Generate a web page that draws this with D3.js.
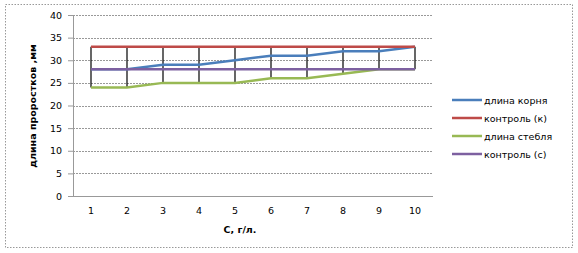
<!DOCTYPE html>
<html>
<head>
<meta charset="utf-8">
<script src="https://cdn.jsdelivr.net/npm/d3@7"></script>
<style>
  body { margin: 0; background: #fff; }
  text { font-family: "DejaVu Sans", Verdana, sans-serif; fill: #000; }
</style>
</head>
<body>
<div id="chart"></div>
<script>
const categories = ["1", "2", "3", "4", "5", "6", "7", "8", "9", "10"];
const rootLen = [28, 28, 29, 29, 30, 31, 31, 32, 32, 33];
const controlK = [33, 33, 33, 33, 33, 33, 33, 33, 33, 33];
const stemLen = [24, 24, 25, 25, 25, 26, 26, 27, 28, 28];
const controlC = [28, 28, 28, 28, 28, 28, 28, 28, 28, 28];
const yTicks = [0, 5, 10, 15, 20, 25, 30, 35, 40];

const series = [
    { name: "длина корня", values: rootLen, color: "#4A7EBB" },
    { name: "контроль (к)", values: controlK, color: "#BE4B48" },
    { name: "длина стебля", values: stemLen, color: "#98B954" },
    { name: "контроль (с)", values: controlC, color: "#7D60A0" }
];

const width = 578, height = 253;
const plot = { left: 73, right: 433, top: 15, bottom: 196 };

const svg = d3.select("#chart").append("svg")
    .attr("width", width)
    .attr("height", height);

// outer frame
svg.append("rect")
    .attr("x", 5.5).attr("y", 4.5)
    .attr("width", 567).attr("height", 243)
    .attr("fill", "none")
    .attr("stroke", "#999")
    .attr("stroke-dasharray", "1.5,1.5");

const x = d3.scaleBand()
    .domain(categories)
    .range([plot.left, plot.right]);

const y = d3.scaleLinear()
    .domain([0, 40])
    .range([plot.bottom, plot.top]);

// gridlines + y axis
const yAxis = svg.append("g")
    .attr("transform", `translate(${plot.left},0)`)
    .call(d3.axisLeft(y).tickValues(yTicks).tickSize(5).tickPadding(6));
yAxis.select(".domain").attr("stroke", "#999");
yAxis.selectAll(".tick line").attr("stroke", "#999");
yAxis.selectAll(".tick text").style("font-size", "9.5px");

svg.append("g").selectAll("line")
    .data(yTicks)
    .join("line")
    .attr("x1", plot.left).attr("x2", plot.right)
    .attr("y1", d => Math.round(y(d)) + 0.5).attr("y2", d => Math.round(y(d)) + 0.5)
    .attr("stroke", "#999")
    .attr("stroke-dasharray", d => d === 0 ? null : "2,1");

const xAxis = svg.append("g")
    .attr("transform", `translate(0,${plot.bottom})`)
    .call(d3.axisBottom(x).tickSize(0).tickPadding(11));
xAxis.select(".domain").remove();
xAxis.selectAll(".tick text").style("font-size", "9.5px");

// high-low lines
svg.append("g").selectAll("line")
    .data(categories)
    .join("line")
    .attr("x1", d => x(d) + x.bandwidth() / 2)
    .attr("x2", d => x(d) + x.bandwidth() / 2)
    .attr("y1", (d, i) => y(d3.max(series, s => s.values[i])))
    .attr("y2", (d, i) => y(d3.min(series, s => s.values[i])))
    .attr("stroke", "#000")
    .attr("stroke-width", 1.2);

const line = d3.line()
    .x((d, i) => x(categories[i]) + x.bandwidth() / 2)
    .y(d => y(d));

svg.append("g").selectAll("path")
    .data(series)
    .join("path")
    .attr("d", d => line(d.values))
    .attr("fill", "none")
    .attr("stroke", d => d.color)
    .attr("stroke-width", 2.5);

// axis titles
svg.append("text")
    .attr("x", 240).attr("y", 233)
    .attr("text-anchor", "middle")
    .style("font-size", "9.5px")
    .style("font-weight", "bold")
    .text("С, г/л.");

svg.append("text")
    .attr("transform", "translate(36,106) rotate(-90)")
    .attr("text-anchor", "middle")
    .style("font-size", "9.5px")
    .style("font-weight", "bold")
    .text("длина проростков ,мм");

// legend
const legend = svg.append("g")
    .attr("transform", "translate(452,100)");

const items = legend.selectAll("g")
    .data(series)
    .join("g")
    .attr("transform", (d, i) => `translate(0,${i * 18})`);

items.append("line")
    .attr("x1", 0).attr("x2", 30)
    .attr("stroke", d => d.color)
    .attr("stroke-width", 2.5);

items.append("text")
    .attr("x", 32).attr("y", 3.5)
    .style("font-size", "9.5px")
    .text(d => d.name);
</script>
</body>
</html>
